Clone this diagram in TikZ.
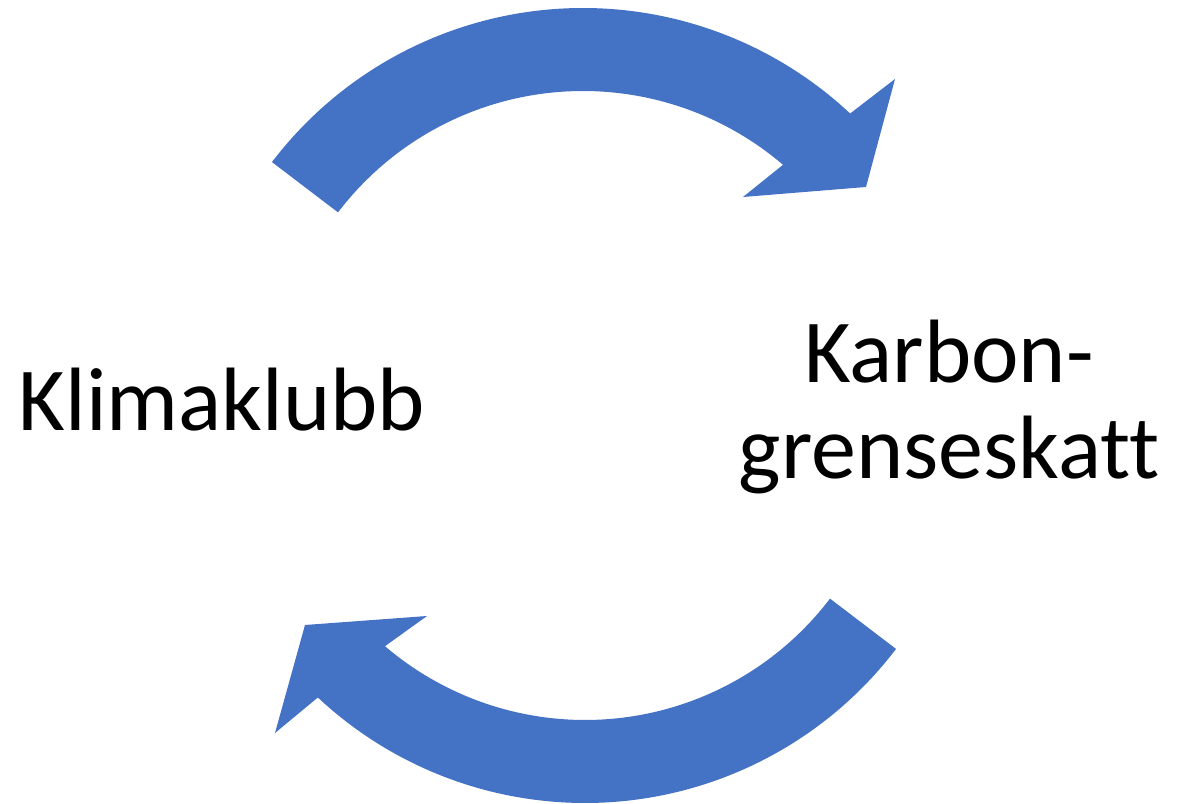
\documentclass[tikz,border=0pt]{standalone}
\usepackage{fontspec}
\setmainfont{Carlito}[Ligatures=NoCommon]
\usetikzlibrary{calc}
\definecolor{arcblue}{HTML}{4472C4}
\tikzset{>=latex}
\begin{document}
\begin{tikzpicture}[x=1pt, y=1pt,
bluearc/.style={fill=arcblue, draw=none},
txt/.style={font=\fontsize{90}{96}\selectfont, align=center, anchor=base, inner sep=0pt}]
\useasboundingbox (0,0) rectangle (1188,803);
\coordinate (c1) at (583,404);
\coordinate (c2) at (585,391);
\node[txt] (klubb) at (222,372) {Klimaklubb};
\node[txt] (grense) at (949,324) {Karbon-\\grenseskatt};
% upper arrow, clockwise
\path[bluearc] ($(c1)+(142.7:391)$) arc[start angle=142.7, end angle=46.9, radius=391]
-- (895,724) -- (866,616) -- (743,606)
-- ($(c1)+(49.5:308)$) arc[start angle=49.5, end angle=142.7, radius=308] -- cycle;
% lower arrow
\path[bluearc] ($(c2)+(-37.3:391)$) arc[start angle=-37.3, end angle=-133.1, radius=391]
-- (275,70) -- (305,178) -- (427,187)
-- ($(c2)+(-130.5:308)$) arc[start angle=-130.5, end angle=-37.3, radius=308] -- cycle;
\end{tikzpicture}
\end{document}
